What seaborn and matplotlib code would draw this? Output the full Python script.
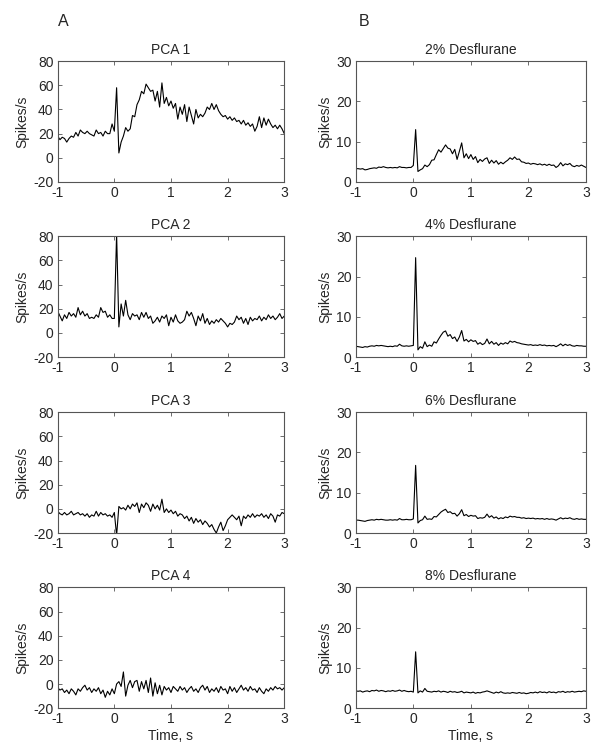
"""PSTHs: PCA components (A) and desflurane concentrations (B)"""

import numpy as np
import matplotlib
matplotlib.use("Agg")
import matplotlib.pyplot as plt
import seaborn as sns

# 40 ms bins from -1 s to 3 s
time_s = np.linspace(-1, 3, 101)

pca1 = [18, 15, 17, 16, 13, 16, 18, 17, 21, 18,
        23, 21, 20, 22, 20, 19, 18, 23, 20, 21,
        18, 22, 20, 20, 28, 22, 58, 4, 13, 18,
        25, 22, 24, 35, 34, 44, 48, 55, 53, 61,
        58, 55, 56, 47, 55, 42, 62, 45, 50, 43,
        47, 41, 45, 32, 42, 36, 44, 30, 42, 35,
        28, 40, 33, 36, 34, 37, 42, 40, 45, 40,
        44, 39, 36, 34, 35, 32, 34, 31, 33, 30,
        31, 28, 31, 27, 29, 26, 28, 22, 26, 34,
        25, 33, 27, 32, 28, 25, 27, 24, 27, 24,
        20]
pca2 = [18, 14, 10, 15, 12, 17, 14, 16, 13, 21,
        15, 18, 14, 16, 12, 13, 12, 15, 13, 21,
        17, 18, 13, 15, 12, 12, 82, 5, 24, 14,
        27, 15, 11, 16, 14, 15, 11, 17, 13, 17,
        12, 14, 8, 10, 13, 9, 14, 12, 15, 6,
        13, 9, 15, 10, 8, 9, 11, 18, 14, 17,
        12, 6, 14, 10, 16, 8, 12, 7, 10, 8,
        11, 9, 12, 10, 8, 5, 8, 7, 9, 14,
        11, 13, 8, 12, 7, 13, 10, 12, 11, 14,
        10, 13, 11, 15, 12, 14, 11, 13, 16, 12,
        14]
pca3 = [-2, -4, -5, -3, -5, -4, -2, -5, -4, -3,
        -5, -4, -6, -4, -7, -5, -6, -2, -6, -3,
        -5, -4, -6, -5, -7, -3, -22, 2, 0, 1,
        -1, 3, 0, 4, 2, 5, -3, 4, 1, 5,
        3, -2, 4, 0, 3, -1, 8, -3, 0, -3,
        -1, -4, -2, -6, -4, -5, -8, -6, -10, -7,
        -12, -8, -11, -9, -13, -10, -12, -15, -13, -17,
        -20, -15, -11, -18, -14, -9, -7, -5, -7, -9,
        -6, -14, -6, -8, -5, -7, -4, -7, -5, -6,
        -4, -7, -5, -8, -4, -6, -11, -5, -6, -3,
        -4]
pca4 = [-3, -5, -4, -7, -5, -8, -4, -6, -9, -4,
        -6, -3, -1, -5, -3, -7, -4, -6, -3, -8,
        -5, -11, -6, -9, -4, -8, 0, 2, -2, 10,
        -10, -1, 3, -3, 2, 3, -6, 2, -4, 3,
        -7, 5, -10, 1, -8, -1, -9, -2, -5, -3,
        -7, -2, -4, -6, -2, -5, -3, -7, -4, -2,
        -6, -4, -7, -3, -1, -5, -2, -7, -4, -6,
        -3, -7, -2, -5, -4, -8, -2, -6, -3, -7,
        -4, -1, -5, -3, -6, -2, -5, -4, -7, -3,
        -6, -8, -4, -6, -3, -5, -2, -4, -3, -5,
        -3]

des2 = [3.3, 3.3, 3.2, 3.3, 3.0, 3.1, 3.3, 3.4, 3.5, 3.4,
        3.7, 3.6, 3.8, 3.6, 3.5, 3.6, 3.5, 3.6, 3.5, 3.8,
        3.6, 3.6, 3.5, 3.6, 3.6, 4.1, 13.0, 2.6, 3.0, 3.3,
        4.2, 3.8, 4.3, 5.4, 5.5, 6.8, 8.0, 7.4, 8.3, 9.2,
        8.4, 8.2, 7.0, 8.1, 5.6, 7.6, 9.7, 6.0, 7.0, 5.8,
        6.8, 5.6, 6.3, 4.8, 5.6, 5.1, 5.7, 6.0, 4.6, 5.4,
        4.7, 5.3, 4.4, 4.9, 4.5, 5.0, 5.4, 6.0, 5.6, 6.2,
        5.6, 5.7, 5.0, 4.9, 4.6, 4.7, 4.4, 4.6, 4.5, 4.3,
        4.5, 4.2, 4.4, 4.1, 4.4, 4.1, 4.2, 3.6, 4.0, 4.8,
        4.0, 4.5, 4.3, 4.6, 4.0, 3.8, 4.1, 3.9, 4.2, 3.9,
        3.6]
des4 = [2.7, 2.6, 2.5, 2.4, 2.6, 2.5, 2.7, 2.8, 2.7, 2.9,
        2.8, 2.9, 2.8, 2.7, 2.6, 2.7, 2.6, 2.8, 2.7, 3.2,
        2.8, 2.7, 2.8, 2.7, 2.8, 2.9, 24.7, 1.8, 2.6, 2.2,
        3.8, 2.6, 3.0, 2.7, 3.8, 3.5, 4.5, 5.4, 6.2, 6.5,
        5.2, 5.6, 4.6, 5.0, 3.9, 5.0, 6.6, 4.0, 4.4, 3.8,
        4.3, 3.9, 4.1, 3.2, 3.6, 3.1, 3.4, 4.5, 3.3, 3.9,
        3.2, 3.6, 2.9, 3.5, 3.2, 3.6, 3.3, 4.0, 3.7, 3.9,
        3.6, 3.5, 3.3, 3.2, 3.1, 3.0, 3.1, 2.9, 3.0, 2.9,
        3.1, 2.9, 3.0, 2.8, 2.9, 2.8, 2.9, 2.6, 2.9, 3.3,
        2.8, 3.2, 2.9, 3.1, 2.8, 2.7, 2.9, 2.8, 2.8, 2.7,
        2.7]
des6 = [3.2, 3.2, 3.1, 3.0, 2.9, 3.1, 3.2, 3.3, 3.2, 3.4,
        3.3, 3.4, 3.3, 3.2, 3.2, 3.3, 3.2, 3.3, 3.2, 3.6,
        3.3, 3.3, 3.4, 3.3, 3.3, 3.5, 16.8, 2.5, 3.1, 3.3,
        4.2, 3.4, 3.5, 3.4, 4.1, 4.0, 4.6, 5.2, 5.6, 5.9,
        5.1, 5.3, 4.8, 4.9, 4.2, 4.8, 5.8, 4.3, 4.6, 4.1,
        4.4, 4.2, 4.3, 3.6, 3.8, 3.7, 3.9, 4.7, 3.9, 4.3,
        3.7, 4.0, 3.5, 3.8, 3.6, 4.0, 3.8, 4.2, 4.0, 4.1,
        3.9, 3.9, 3.7, 3.8, 3.6, 3.7, 3.6, 3.7, 3.5, 3.6,
        3.5, 3.6, 3.4, 3.6, 3.4, 3.5, 3.4, 3.2, 3.5, 3.8,
        3.5, 3.7, 3.6, 3.8, 3.5, 3.4, 3.6, 3.4, 3.5, 3.4,
        3.4]
des8 = [4.3, 4.2, 4.3, 4.0, 4.2, 4.3, 4.1, 4.4, 4.3, 4.5,
        4.2, 4.4, 4.3, 4.1, 4.3, 4.2, 4.4, 4.2, 4.3, 4.5,
        4.2, 4.4, 4.2, 4.1, 4.2, 4.0, 14.0, 3.8, 4.3, 4.0,
        4.9, 4.2, 4.1, 4.0, 4.2, 4.1, 4.3, 4.0, 4.2, 4.1,
        3.9, 4.2, 4.0, 4.1, 3.9, 4.0, 4.2, 3.8, 4.0, 3.9,
        3.8, 4.0, 3.7, 3.9, 3.8, 4.0, 4.1, 4.3, 4.1, 3.9,
        3.7, 4.0, 3.8, 4.1, 3.8, 3.7, 3.8, 3.7, 3.9, 3.8,
        3.7, 3.9, 3.7, 3.8, 3.6, 3.7, 3.9, 3.8, 4.0, 3.8,
        4.1, 3.9, 4.0, 3.8, 4.1, 3.9, 4.0, 3.8, 4.1, 4.0,
        4.2, 3.9, 4.1, 4.0, 4.2, 4.0, 4.1, 4.2, 4.1, 4.3,
        4.2]

pca_titles = ["PCA 1", "PCA 2", "PCA 3", "PCA 4"]
des_titles = ["2% Desflurane", "4% Desflurane", "6% Desflurane", "8% Desflurane"]
x_ticks = [-1, 0, 1, 2, 3]
pca_yticks = [-20, 0, 20, 40, 60, 80]
des_yticks = [0, 10, 20, 30]

sns.set_style("ticks")
plt.rcParams["font.family"] = ["Liberation Sans", "DejaVu Sans"]
plt.rcParams["font.size"] = 10

fig = plt.figure(figsize=(6.01, 7.55), dpi=100)

row_bottoms = [0.759, 0.527, 0.294, 0.062]
panel_h = 0.160


def style_axes(ax, ylim, yticks, title, bottom_row):
    ax.set_xlim(-1, 3)
    ax.set_ylim(*ylim)
    ax.set_xticks(x_ticks)
    ax.set_xticklabels([str(v) for v in x_ticks])
    ax.set_yticks(yticks)
    ax.set_yticklabels([str(v) for v in yticks])
    ax.tick_params(direction="in", top=True, right=True, length=3,
                   width=0.6, color="#555555", labelsize=10, pad=3)
    for sp in ax.spines.values():
        sp.set_color("#555555")
        sp.set_linewidth(0.8)
    ax.set_title(title, fontsize=10, pad=5)
    ax.set_ylabel("Spikes/s", fontsize=10, labelpad=3)
    if bottom_row:
        ax.set_xlabel("Time, s", fontsize=10, labelpad=2)
    else:
        ax.set_xlabel("")


pca_series = [pca1, pca2, pca3, pca4]
des_series = [des2, des4, des6, des8]

for i in range(4):
    ax = fig.add_axes([0.096, row_bottoms[i], 0.377, panel_h])
    sns.lineplot(x=np.linspace(-1, 3, len(pca_series[i])), y=pca_series[i],
                 ax=ax, color="black", linewidth=0.8, estimator=None)
    style_axes(ax, (-20, 80), pca_yticks, pca_titles[i], i == 3)

    ax = fig.add_axes([0.592, row_bottoms[i], 0.383, panel_h])
    sns.lineplot(x=np.linspace(-1, 3, len(des_series[i])), y=des_series[i],
                 ax=ax, color="black", linewidth=0.8, estimator=None)
    style_axes(ax, (0, 30), des_yticks, des_titles[i], i == 3)

fig.text(0.097, 0.971, "A", fontsize=11.5, va="center")
fig.text(0.597, 0.971, "B", fontsize=11.5, va="center")

fig.savefig("out.png", dpi=100)
